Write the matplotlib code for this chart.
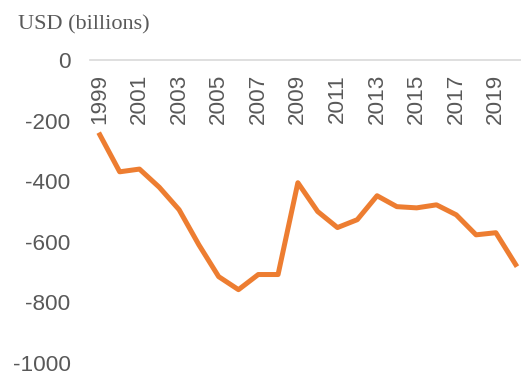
import matplotlib
matplotlib.use("Agg")
import matplotlib.pyplot as plt

# current account balance, USD billions
years = [1999, 2000, 2001, 2002, 2003, 2004, 2005, 2006, 2007, 2008, 2009,
         2010, 2011, 2012, 2013, 2014, 2015, 2016, 2017, 2018, 2019, 2020]
balance = [-247, -369, -360, -420, -494, -610, -715, -758, -708, -708, -405,
           -500, -553, -527, -448, -484, -488, -478, -511, -577, -570, -675]
tick_years = list(range(1999, 2020, 2))
y_ticks = [0, -200, -400, -600, -800, -1000]

grey = '#595959'

fig = plt.figure(figsize=(5.21, 3.76), dpi=100)
ax = fig.add_axes([0.1727, 0.0346, 0.8273, 0.8058])

ax.plot(years, balance, color='#ED7D31', linewidth=3.6, solid_joinstyle='round')

ax.set_xlim(1998.5, 2020.27)
ax.set_ylim(-1000, 0)

# x axis sits on the zero line, labels hang below it
ax.xaxis.tick_top()
ax.set_xticks(tick_years)
ax.set_xticklabels([str(y) for y in tick_years], rotation=90, va='top',
                   fontsize=16.2, color=grey, family='Liberation Sans')
ax.tick_params(axis='x', length=0, pad=-10)

ax.set_yticks(y_ticks)
ax.set_yticklabels([str(v) for v in y_ticks], fontsize=16.2, color=grey,
                   family='Liberation Sans')
ax.tick_params(axis='y', length=0, pad=14)

for side in ['left', 'right', 'bottom']:
    ax.spines[side].set_visible(False)
ax.spines['top'].set_color('#D9D9D9')
ax.spines['top'].set_linewidth(1.2)

fig.text(18 / 521, 1 - 25 / 376, 'USD (billions)', fontsize=16, color=grey,
         family='Liberation Serif', va='center', ha='left')

fig.savefig('out.png', dpi=100)
